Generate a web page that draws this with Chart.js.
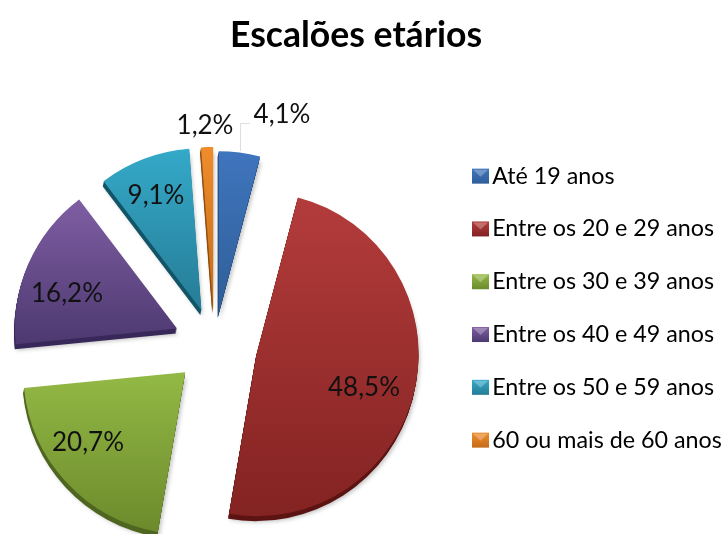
<!DOCTYPE html>
<html><head><meta charset="utf-8">
<style>html,body{margin:0;padding:0;background:#fff}canvas{display:block}</style>
<script src="https://cdn.jsdelivr.net/npm/chart.js@4"></script>
</head><body>
<canvas id="c" width="726" height="534"></canvas>
<script>
const titleText = 'Escalões etários';
const categories = ['Até 19 anos','Entre os 20 e 29 anos','Entre os 30 e 39 anos','Entre os 40 e 49 anos','Entre os 50 e 59 anos','60 ou mais de 60 anos'];
const shares = [4.1,48.5,20.7,16.2,9.1,1.2];
const valueLabels = ['4,1%','48,5%','20,7%','16,2%','9,1%','1,2%'];
const explode = [32,43,40,41,37,36];
const topColors = ['#3f75bd','#b33c3b','#93b945','#7f5ea3','#34a9c8','#f08c2c'];
const bottomColors = ['#2f5e99','#832322','#6c8a2c','#4d3970','#267c96','#c46c18'];
const sideColors = ['#234a78','#5c1413','#4f6620','#38285a','#125468','#8f4e10'];
const labelSpots = [[282,115],[364,388],[88,443],[67,294],[156,196],[205,126]];

const exploded3d = {
  id:'exploded3d',
  afterLayout(chart){
    const lg = chart.legend;
    lg.left = 445; lg.right = 726; lg.top = 135; lg.bottom = 534;
    lg.legendHitBoxes.forEach(h=>{h.left=0;});
    lg.adjustHitBoxes();
    chart.titleBlock.left = 0; chart.titleBlock.right = 712;
  },
  beforeDatasetDraw(chart,args){
    const ctx = chart.ctx;
    args.meta.data.forEach((arc,i)=>{
      const mid = (arc.startAngle+arc.endAngle)/2;
      const r = arc.outerRadius;
      const dx = Math.cos(mid)*explode[i], dy = Math.sin(mid)*explode[i];
      ctx.save();
      ctx.translate(dx,dy);
      const path = new Path2D();
      path.moveTo(arc.x,arc.y);
      path.arc(arc.x,arc.y,r,arc.startAngle,arc.endAngle);
      path.closePath();
      ctx.save();
      ctx.shadowColor='rgba(0,0,0,0.25)'; ctx.shadowBlur=4; ctx.shadowOffsetX=2; ctx.shadowOffsetY=1;
      ctx.fillStyle=sideColors[i];
      ctx.translate(-1,5); ctx.fill(path);
      ctx.restore();
      ctx.save();
      ctx.fillStyle=sideColors[i];
      for(let k=1;k<5;k++){ctx.save();ctx.translate(-k/5,k);ctx.fill(path);ctx.restore();}
      ctx.restore();
      const ys=[arc.y,arc.y+Math.sin(arc.startAngle)*r,arc.y+Math.sin(arc.endAngle)*r];
      if(arc.startAngle<=Math.PI/2&&arc.endAngle>=Math.PI/2)ys.push(arc.y+r);
      if(arc.startAngle<=-Math.PI/2&&arc.endAngle>=-Math.PI/2)ys.push(arc.y-r);
      if(arc.startAngle<=Math.PI*1.5&&arc.endAngle>=Math.PI*1.5)ys.push(arc.y-r);
      const g=ctx.createLinearGradient(0,Math.min(...ys),0,Math.max(...ys));
      g.addColorStop(0,topColors[i]); g.addColorStop(1,bottomColors[i]);
      arc.options.backgroundColor=g;
      arc.draw(ctx);
      ctx.restore();
    });
    return false;
  },
  afterDatasetsDraw(chart){
    const ctx=chart.ctx;
    ctx.save();
    ctx.strokeStyle='#dddddd'; ctx.lineWidth=1;
    ctx.beginPath(); ctx.moveTo(240.5,151); ctx.lineTo(240.5,123.5); ctx.lineTo(250,123.5); ctx.stroke();
    ctx.font='26px Lato'; ctx.fillStyle='#111'; ctx.textAlign='center'; ctx.textBaseline='middle';
    valueLabels.forEach((t,i)=>ctx.fillText(t,labelSpots[i][0],labelSpots[i][1]));
    ctx.restore();
  },
  afterDraw(chart){
    const ctx=chart.ctx;
    chart.legend.legendHitBoxes.forEach((h,i)=>{
      const x=472, y=h.top+h.height/2-7.5;
      const g=ctx.createLinearGradient(0,y,0,y+15);
      g.addColorStop(0,topColors[i]); g.addColorStop(1,bottomColors[i]);
      ctx.save();
      ctx.fillStyle=g; ctx.fillRect(x,y,17,15);
      ctx.fillStyle='rgba(255,255,255,0.28)';
      ctx.beginPath(); ctx.moveTo(x+1,y+1); ctx.lineTo(x+16,y+1); ctx.lineTo(x+8.5,y+8); ctx.closePath(); ctx.fill();
      ctx.restore();
    });
  }
};

new Chart(document.getElementById('c'),{
  type:'pie',
  data:{labels:categories,datasets:[{data:shares,backgroundColor:topColors,borderWidth:0,hoverOffset:0}]},
  plugins:[exploded3d],
  options:{
    responsive:false,animation:false,
    layout:{padding:{left:40,right:50,top:0,bottom:27}},
    plugins:{
      tooltip:{enabled:false},
      title:{display:true,text:titleText,color:'#000',font:{family:'Lato',size:35.6,weight:'bold'},padding:{top:14.6,bottom:125.6}},
      legend:{display:true,position:'right',align:'start',
        labels:{color:'#000',font:{family:'Lato',size:23.3},boxWidth:6,boxHeight:6,padding:29.5,
          generateLabels(chart){
            return categories.map((t,i)=>({text:t,fillStyle:'rgba(0,0,0,0)',strokeStyle:'rgba(0,0,0,0)',lineWidth:0,index:i,hidden:false}));
          }}}
    }
  }
});
</script>
</body></html>
